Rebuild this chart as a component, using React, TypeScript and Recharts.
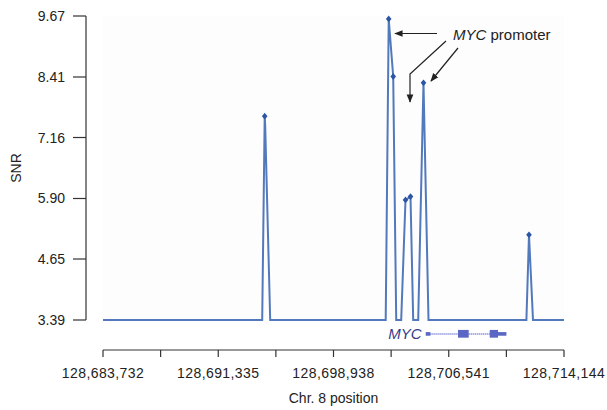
import { LineChart, Line, XAxis, YAxis, ReferenceArea, ReferenceLine, CartesianGrid } from "recharts";

// probe positions on chr. 8 and their SNR
const POSITIONS = [
  128683732, 128694234, 128694399, 128694432, 128694762, 128702382, 128702580,
  128702877, 128703075, 128703404, 128703688, 128704018, 128704196, 128704526,
  128704875, 128705205, 128711664, 128711835, 128712099, 128714144,
];
const SNR = [
  3.39, 3.39, 7.6, 7.4, 3.39, 3.39, 9.61, 8.42, 3.39, 3.39, 5.87, 5.94, 3.39,
  3.39, 8.29, 3.39, 3.39, 5.15, 3.39, 3.39,
];
const PEAKS = [128694399, 128702580, 128702877, 128703688, 128704018, 128704875, 128711835];

const X_TICKS = [
  128683732, 128687533.5, 128691335, 128695136.5, 128698938, 128702739.5,
  128706541, 128710342.5, 128714144,
];
const Y_TICKS = [3.39, 4.65, 5.9, 7.16, 8.41, 9.67];

// MYC gene model (start, end)
const MYC_UTR5 = [128705021, 128705331];
const MYC_EXON2 = [128707151, 128707857];
const MYC_EXON3 = [128709243, 128709790];
const MYC_UTR3 = [128709790, 128710345];

const data = POSITIONS.map((pos, i) => ({ pos, snr: SNR[i], peak: PEAKS.includes(pos) }));

const FONT = '"Liberation Sans", Arial, sans-serif';
const LINE_COLOR = "#5379bd";
const DOT_COLOR = "#2c56a3";
const GENE_COLOR = "#5b67c4";
const AXIS_COLOR = "#333";

function YTick({ x, y, payload }: any) {
  return (
    <g>
      <line x1={x - 30} x2={x - 17} y1={y} y2={y} stroke={AXIS_COLOR} strokeWidth={1.2} />
      <text x={x - 38} y={y} textAnchor="end" dominantBaseline="central" fontSize={14} fill="#222" fontFamily={FONT}>
        {payload.value.toFixed(2)}
      </text>
    </g>
  );
}

function XTick({ x, y, payload, index }: any) {
  return (
    <g>
      <line x1={x} x2={x} y1={y + 30} y2={y + 37} stroke={AXIS_COLOR} strokeWidth={1.2} />
      {index % 2 === 0 && (
        <text x={x} y={y + 53} textAnchor="middle" dominantBaseline="central" fontSize={14} letterSpacing={0.4} fill="#222" fontFamily={FONT}>
          {Math.round(payload.value).toLocaleString("en-US")}
        </text>
      )}
    </g>
  );
}

function renderDot(props: any) {
  const { cx, cy, payload, index } = props;
  if (!payload.peak) return <g key={`d${index}`} />;
  return (
    <path
      key={`d${index}`}
      d={`M${cx},${cy - 3.4}L${cx + 2.8},${cy}L${cx},${cy + 3.4}L${cx - 2.8},${cy}Z`}
      fill={DOT_COLOR}
    />
  );
}

function GeneLabel({ viewBox }: any) {
  return (
    <text
      x={viewBox.x - 4}
      y={viewBox.y + viewBox.height / 2}
      textAnchor="end"
      dominantBaseline="central"
      fontSize={15}
      fontStyle="italic"
      fill="#353a8c"
      fontFamily={FONT}
    >
      MYC
    </text>
  );
}

function SnrLabel() {
  return (
    <text x={16} y={168} transform="rotate(-90 16 168)" textAnchor="middle" dominantBaseline="central" fontSize={14} fill="#222" fontFamily={FONT}>
      SNR
    </text>
  );
}

function XLabel() {
  return (
    <text x={333.5} y={398} textAnchor="middle" dominantBaseline="central" fontSize={14} fill="#222" fontFamily={FONT}>
      Chr. 8 position
    </text>
  );
}

export default function App() {
  return (
    <div style={{ position: "absolute", left: 0, top: 0, width: 607, height: 410, background: "#fff" }}>
      <LineChart width={607} height={410} data={data} margin={{ top: 16, right: 43, bottom: 30, left: 0 }}>
        <CartesianGrid horizontal={false} vertical={false} fill="#fdfdfd" />
        <XAxis
          dataKey="pos"
          type="number"
          domain={[X_TICKS[0], X_TICKS[X_TICKS.length - 1]]}
          ticks={X_TICKS}
          interval={0}
          height={60}
          tickSize={0}
          tickMargin={0}
          tickLine={false}
          axisLine={{ stroke: AXIS_COLOR, strokeWidth: 1.2, transform: "translate(0 30)" }}
          tick={<XTick />}
          label={<XLabel />}
        />
        <YAxis
          type="number"
          domain={[Y_TICKS[0], Y_TICKS[Y_TICKS.length - 1]]}
          ticks={Y_TICKS}
          interval={0}
          width={103}
          tickSize={0}
          tickMargin={0}
          tickLine={false}
          axisLine={{ stroke: AXIS_COLOR, strokeWidth: 1.2, transform: "translate(-17 0)" }}
          tick={<YTick />}
          label={<SnrLabel />}
        />
        <ReferenceLine
          segment={[{ x: MYC_UTR5[1], y: 3.1 }, { x: MYC_EXON2[0], y: 3.1 }]}
          stroke={GENE_COLOR}
          strokeWidth={1.5}
          strokeDasharray="1 1"
          ifOverflow="visible"
        />
        <ReferenceLine
          segment={[{ x: MYC_EXON2[1], y: 3.1 }, { x: MYC_EXON3[0], y: 3.1 }]}
          stroke={GENE_COLOR}
          strokeWidth={1.5}
          strokeDasharray="1 1"
          ifOverflow="visible"
        />
        <ReferenceArea x1={MYC_UTR5[0]} x2={MYC_UTR5[1]} y1={3.065} y2={3.14} fill={GENE_COLOR} fillOpacity={1} ifOverflow="visible" label={<GeneLabel />} />
        <ReferenceArea x1={MYC_EXON2[0]} x2={MYC_EXON2[1]} y1={3.025} y2={3.185} fill={GENE_COLOR} fillOpacity={1} ifOverflow="visible" />
        <ReferenceArea x1={MYC_EXON3[0]} x2={MYC_EXON3[1]} y1={3.025} y2={3.185} fill={GENE_COLOR} fillOpacity={1} ifOverflow="visible" />
        <ReferenceArea x1={MYC_UTR3[0]} x2={MYC_UTR3[1]} y1={3.065} y2={3.14} fill={GENE_COLOR} fillOpacity={1} ifOverflow="visible" />
        <Line
          type="linear"
          dataKey="snr"
          stroke={LINE_COLOR}
          strokeWidth={2}
          dot={renderDot}
          activeDot={false}
          isAnimationActive={false}
        />
      </LineChart>
      <svg width={607} height={410} style={{ position: "absolute", left: 0, top: 0, pointerEvents: "none" }}>
        <defs>
          <marker id="arrow" viewBox="0 0 10 10" refX="9" refY="5" markerWidth="7" markerHeight="7" orient="auto-start-reverse">
            <path d="M0,1L10,5L0,9Z" fill="#222" />
          </marker>
        </defs>
        <line x1={437} y1={33.5} x2={395} y2={33.5} stroke="#222" strokeWidth={1.2} markerEnd="url(#arrow)" />
        <polyline points="446,41 410,74 410,102" fill="none" stroke="#222" strokeWidth={1.2} markerEnd="url(#arrow)" />
        <line x1={458} y1={48} x2={431} y2={81} stroke="#222" strokeWidth={1.2} markerEnd="url(#arrow)" />
        <text x={453} y={34} dominantBaseline="central" fontSize={15} fill="#222" fontFamily={FONT}>
          <tspan fontStyle="italic">MYC</tspan>
          <tspan> promoter</tspan>
        </text>
      </svg>
    </div>
  );
}
